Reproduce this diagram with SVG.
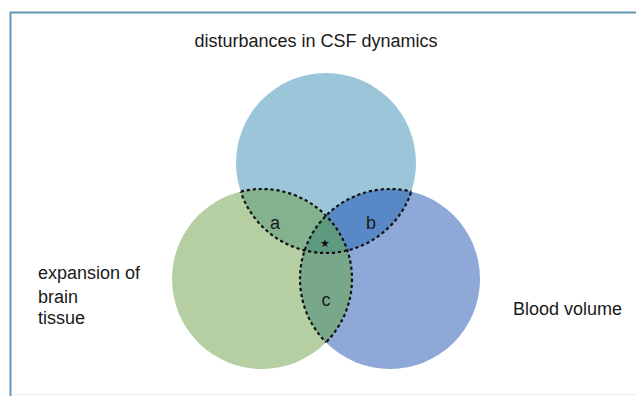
<svg xmlns="http://www.w3.org/2000/svg" width="636" height="396" viewBox="0 0 636 396">
  <style>
    .lbl { font-family: "Liberation Sans", Arial, sans-serif; font-size: 18px; fill: #1a1a1a; }
    .mid { text-anchor: middle; }
    .dash { fill: none; stroke: #111; stroke-width: 2.2; stroke-dasharray: 3.2 2.8; }
  </style>
  <defs>
    <clipPath id="cT"><circle cx="326" cy="163" r="90"/></clipPath>
    <clipPath id="cL"><circle cx="262" cy="279" r="90"/></clipPath>
    <clipPath id="cR"><circle cx="390" cy="279" r="90"/></clipPath>
    <clipPath id="cLR"><circle cx="262" cy="279" r="90"/><circle cx="390" cy="279" r="90"/></clipPath>
    <clipPath id="cTR"><circle cx="326" cy="163" r="90"/><circle cx="390" cy="279" r="90"/></clipPath>
    <clipPath id="cTL"><circle cx="326" cy="163" r="90"/><circle cx="262" cy="279" r="90"/></clipPath>
  </defs>
  <rect x="0" y="0" width="636" height="396" fill="#ffffff"/>
  <g id="frame">
    <line x1="10" y1="12.5" x2="636" y2="12.5" stroke="#6497b6" stroke-width="2"/>
    <line x1="10.5" y1="12" x2="10.5" y2="396" stroke="#6497b6" stroke-width="2"/>
    <line x1="12" y1="394.5" x2="636" y2="394.5" stroke="#ececec" stroke-width="1"/>
  </g>
  <g id="csf">
    <circle cx="326" cy="163" r="90" fill="#9bc6d9"/>
    <text class="lbl mid" x="316" y="47">disturbances in CSF dynamics</text>
  </g>
  <g id="brain">
    <circle cx="262" cy="279" r="90" fill="#b5cfa3"/>
    <text class="lbl" x="38" y="279">expansion of</text>
    <text class="lbl" x="38" y="303">brain</text>
    <text class="lbl" x="38" y="324">tissue</text>
  </g>
  <g id="blood">
    <circle cx="390" cy="279" r="90" fill="#8ea8d8"/>
    <text class="lbl" x="513" y="315">Blood volume</text>
  </g>
  <g id="region-a">
    <circle cx="262" cy="279" r="90" fill="#84b18e" clip-path="url(#cT)"/>
    <text class="lbl mid" x="275" y="229">a</text>
  </g>
  <g id="region-b">
    <circle cx="390" cy="279" r="90" fill="#5888c5" clip-path="url(#cT)"/>
    <text class="lbl mid" x="371" y="229">b</text>
  </g>
  <g id="region-c">
    <circle cx="390" cy="279" r="90" fill="#79a78a" clip-path="url(#cL)"/>
    <text class="lbl mid" x="326" y="306">c</text>
  </g>
  <g id="region-center">
    <g clip-path="url(#cT)">
      <circle cx="390" cy="279" r="90" fill="#5e9a80" clip-path="url(#cL)"/>
    </g>
    <text x="325" y="246.5" text-anchor="middle" font-family="DejaVu Sans, sans-serif" font-size="11" fill="#111">★</text>
  </g>
  <g id="connectors">
    <circle class="dash" cx="326" cy="163" r="90" clip-path="url(#cLR)"/>
    <circle class="dash" cx="262" cy="279" r="90" clip-path="url(#cTR)"/>
    <circle class="dash" cx="390" cy="279" r="90" clip-path="url(#cTL)"/>
  </g>
</svg>
